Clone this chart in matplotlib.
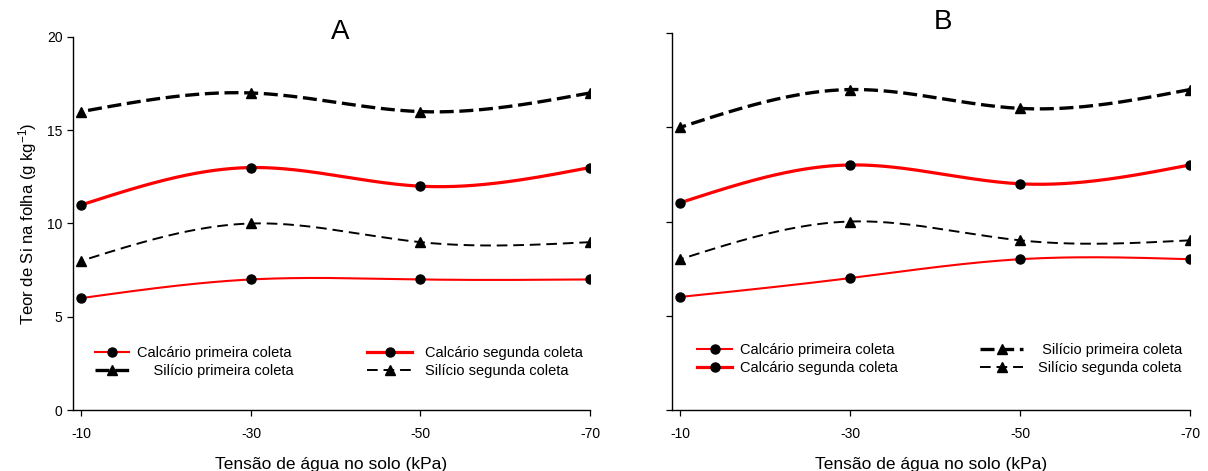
import numpy as np
import matplotlib
matplotlib.use("Agg")
import matplotlib.pyplot as plt
from matplotlib.lines import Line2D
from matplotlib.legend import Legend

plt.rcParams['font.family'] = ['Liberation Sans', 'DejaVu Sans']
plt.rcParams['mathtext.fontset'] = 'custom'
plt.rcParams['mathtext.rm'] = 'Liberation Sans'
plt.rcParams['mathtext.it'] = 'Liberation Sans:italic'
plt.rcParams['axes.unicode_minus'] = False

# Soil water tension (kPa)
tension = [-10, -30, -50, -70]

# Leaf Si content (g/kg), panel A
a_calc_1 = [6, 7, 7, 7]
a_calc_2 = [11, 13, 12, 13]
a_sil_1 = [16, 17, 16, 17]
a_sil_2 = [8, 10, 9, 9]

# Leaf Si content (g/kg), panel B
b_calc_1 = [6, 7, 8, 8]
b_calc_2 = [11, 13, 12, 13]
b_sil_1 = [15, 17, 16, 17]
b_sil_2 = [8, 10, 9, 9]

labels = {
    'c1': 'Calcário primeira coleta',
    'c2': 'Calcário segunda coleta',
    's1': 'Silício primeira coleta',
    's2': 'Silício segunda coleta',
}


def natural_spline(x, y, n=300):
    """Natural cubic spline through (x, y); returns a dense curve."""
    x = np.asarray(x, float)
    y = np.asarray(y, float)
    order = np.argsort(x)
    x, y = x[order], y[order]
    k = len(x)
    h = np.diff(x)
    A = np.zeros((k, k))
    r = np.zeros(k)
    A[0, 0] = A[-1, -1] = 1.0
    for i in range(1, k - 1):
        A[i, i - 1] = h[i - 1]
        A[i, i] = 2 * (h[i - 1] + h[i])
        A[i, i + 1] = h[i]
        r[i] = 6 * ((y[i + 1] - y[i]) / h[i] - (y[i] - y[i - 1]) / h[i - 1])
    M = np.linalg.solve(A, r)
    xs = np.linspace(x[0], x[-1], n)
    idx = np.clip(np.searchsorted(x, xs) - 1, 0, k - 2)
    x0, x1 = x[idx], x[idx + 1]
    hh = x1 - x0
    t0 = x1 - xs
    t1 = xs - x0
    ys = (M[idx] * t0 ** 3 / (6 * hh) + M[idx + 1] * t1 ** 3 / (6 * hh)
          + (y[idx] / hh - M[idx] * hh / 6) * t0
          + (y[idx + 1] / hh - M[idx + 1] * hh / 6) * t1)
    return xs, ys


styles = {
    'c1': dict(color='#ff0000', lw=1.5, ls='-', marker='o'),
    'c2': dict(color='#ff0000', lw=2.3, ls='-', marker='o'),
    's1': dict(color='black', lw=2.4, ls=(0, (4.2, 1.7)), marker='^'),
    's2': dict(color='black', lw=1.4, ls=(0, (5.5, 3.0)), marker='^'),
}


def draw_series(ax, key, yvals):
    st = styles[key]
    xs, ys = natural_spline(tension, yvals)
    ax.plot(xs, ys, color=st['color'], lw=st['lw'], ls=st['ls'], zorder=2)
    ax.plot(tension, yvals, ls='none', marker=st['marker'], ms=6.5,
            mfc='black', mec='black', zorder=3)


def handle(key):
    st = styles[key]
    return Line2D([], [], color=st['color'], lw=st['lw'], ls=st['ls'],
                  marker=st['marker'], ms=6.5, mfc='black', mec='black')


def style_axes(ax, show_ylabels):
    ax.set_xlim(-9.0, -70)
    ax.set_ylim(0, 20)
    ax.set_xticks(tension)
    ax.set_xticklabels([str(t) for t in tension])
    ax.set_yticks([0, 5, 10, 15, 20])
    if not show_ylabels:
        ax.set_yticklabels([])
    for s in ('top', 'right'):
        ax.spines[s].set_visible(False)
    for s in ('left', 'bottom'):
        ax.spines[s].set_linewidth(1.0)
    ax.tick_params(direction='out', length=4, width=0.9, labelsize=10)
    ax.tick_params(axis='x', pad=8)
    ax.set_xlabel('Tensão de água no solo (kPa)', fontsize=12.5, labelpad=12)


def add_column_legend(ax, keys, texts, x, y, hlen, hpad):
    leg = Legend(ax, [handle(k) for k in keys], texts, loc='upper left',
                 bbox_to_anchor=(x, y), frameon=False, fontsize=10.5,
                 handlelength=hlen, handletextpad=hpad, borderpad=0,
                 borderaxespad=0, labelspacing=0.3, numpoints=1)
    ax.add_artist(leg)
    return leg


fig = plt.figure(figsize=(12.08, 4.71), dpi=100)
axA = fig.add_axes([73 / 1208, 1 - 410 / 471, 517 / 1208, 373 / 471])
axB = fig.add_axes([672 / 1208, 1 - 410 / 471, 518 / 1208, 377 / 471])

for key, vals in (('c1', a_calc_1), ('c2', a_calc_2), ('s1', a_sil_1), ('s2', a_sil_2)):
    draw_series(axA, key, vals)
for key, vals in (('c1', b_calc_1), ('c2', b_calc_2), ('s1', b_sil_1), ('s2', b_sil_2)):
    draw_series(axB, key, vals)

style_axes(axA, True)
style_axes(axB, False)
axA.set_ylabel('Teor de Si na folha (g kg$^{-1}$)', fontsize=12, labelpad=6)

# Panel A legend: two columns
add_column_legend(axA, ['c1', 's1'], [labels['c1'], '    ' + labels['s1']],
                  22 / 517, 0.172, 2.3, 0.55)
add_column_legend(axA, ['c2', 's2'], [labels['c2'], labels['s2']],
                  294 / 517, 0.172, 3.1, 0.9)

# Panel B legend: two columns
add_column_legend(axB, ['c1', 'c2'], [labels['c1'], labels['c2']],
                  25 / 518, 0.178, 2.4, 0.55)
add_column_legend(axB, ['s1', 's2'], [' ' + labels['s1'], labels['s2']],
                  308 / 518, 0.178, 2.95, 1.0)

fig.text(340 / 1208, 1 - 32 / 471, 'A', fontsize=20, ha='center', va='center')
fig.text(943 / 1208, 1 - 22 / 471, 'B', fontsize=20, ha='center', va='center')

fig.savefig('out.png', dpi=100)
